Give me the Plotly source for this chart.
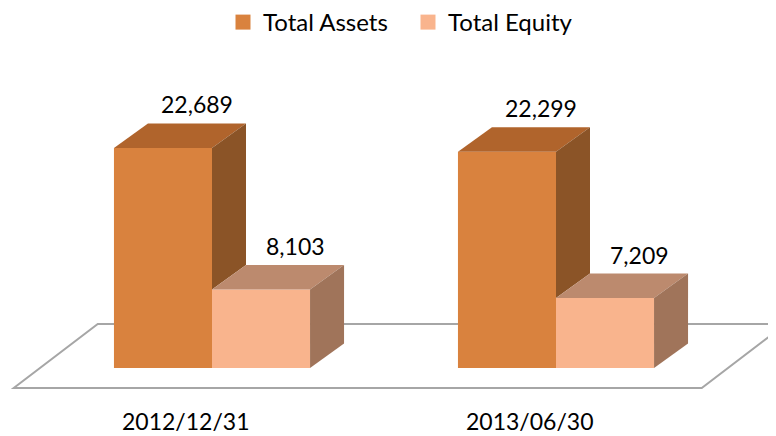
import plotly.graph_objects as go

# ---- data ----
categories = ["2012/12/31", "2013/06/30"]
series_names = ["Total Assets", "Total Equity"]
total_assets = [22689, 22299]
total_equity = [8103, 7209]
value_labels_assets = ["22,689", "22,299"]
value_labels_equity = ["8,103", "7,209"]

# ---- styling / geometry (pixel-tuned; page has an 8px body margin) ----
W, H = 768, 428
MB = 30                       # bottom margin
PX_PER_CAT = 344.0            # horizontal pixels per category
X0_PX = 204.0                 # pixel position of category 0
UNITS_PER_PX = 103.1          # value units per vertical pixel
ZERO_PX = 360.0               # pixel row of value 0
BAR_W = 0.285                 # bar width in category units
DDX = 34.0 / PX_PER_CAT       # depth shift (x) in category units
DDY = 24.5 * UNITS_PER_PX     # depth shift (y) in value units

cols = {
    "Total Assets": {"front": "#D9823E", "top": "#B0642C", "side": "#8B5427"},
    "Total Equity": {"front": "#F9B48D", "top": "#BC8A6E", "side": "#A0745A"},
}
FONT = "Lato"
TXT = "#000000"

plot_h = H - MB
xr = [(0 - X0_PX) / PX_PER_CAT, (W - X0_PX) / PX_PER_CAT]
yr = [-(plot_h - ZERO_PX) * UNITS_PER_PX, ZERO_PX * UNITS_PER_PX]

fig = go.Figure()
xs = list(range(len(categories)))

series = [("Total Assets", total_assets, -BAR_W, value_labels_assets),
          ("Total Equity", total_equity, 0.0, value_labels_equity)]

# front faces as bars
for name, vals, off, _ in series:
    fig.add_trace(go.Bar(
        x=xs, y=vals, width=BAR_W, offset=off, name=name,
        marker=dict(color=cols[name]["front"], line=dict(width=0)),
        showlegend=False, hoverinfo="skip"))

# top and side faces (derived from the values)
for si, (name, vals, off, labels) in enumerate(series):
    for i, v in enumerate(vals):
        x0 = i + off
        x1 = x0 + BAR_W
        fig.add_trace(go.Scatter(
            x=[x0, x1, x1 + DDX, x0 + DDX, x0],
            y=[v, v, v + DDY, v + DDY, v],
            fill="toself", fillcolor=cols[name]["top"], mode="lines",
            line=dict(width=0, color=cols[name]["top"]),
            showlegend=False, hoverinfo="skip"))
        base = 0
        if si + 1 < len(series):
            base = series[si + 1][1][i]
        fig.add_trace(go.Scatter(
            x=[x1, x1, x1 + DDX, x1 + DDX, x1],
            y=[base, v, v + DDY, base + DDY, base],
            fill="toself", fillcolor=cols[name]["side"], mode="lines",
            line=dict(width=0, color=cols[name]["side"]),
            showlegend=False, hoverinfo="skip"))
        fig.add_annotation(
            x=x0 + BAR_W / 2 + DDX, y=v + DDY, text=labels[i],
            showarrow=False, yanchor="middle", yshift=19,
            font=dict(family=FONT, size=23, color=TXT))

# legend entries
for name, _, _, _ in series:
    fig.add_trace(go.Scatter(
        x=[None], y=[None], mode="markers", name=name,
        marker=dict(symbol="square", size=15, color=cols[name]["front"])))

# floor parallelogram (frame decoration)
n = len(categories)
FLOOR_SLOPE = 84.0 / 64.0
front_dy_px, back_dy_px = 20.0, 44.0
fx_front = -front_dy_px * FLOOR_SLOPE / PX_PER_CAT
fx_back = back_dy_px * FLOOR_SLOPE / PX_PER_CAT
fy_front = -front_dy_px * UNITS_PER_PX
fy_back = back_dy_px * UNITS_PER_PX
L, R = -0.5, n - 0.5
path = (f"M{L + fx_front},{fy_front} L{R + fx_front},{fy_front} "
        f"L{R + fx_back},{fy_back} L{L + fx_back},{fy_back} Z")
fig.add_shape(type="path", path=path, xref="x", yref="y", layer="below",
              line=dict(color="#A6A6A6", width=2), fillcolor="rgba(0,0,0,0)")

fig.update_layout(
    width=W, height=H,
    margin=dict(l=0, r=0, t=0, b=MB, autoexpand=False),
    paper_bgcolor="white", plot_bgcolor="white",
    barmode="overlay",
    font=dict(family=FONT, size=23, color=TXT),
    legend=dict(orientation="h", x=215 / W, xanchor="left",
                y=1 + 8 / plot_h, yanchor="top",
                entrywidth=140, entrywidthmode="pixels",
                font=dict(family=FONT, size=24, color=TXT),
                itemsizing="trace", bgcolor="rgba(0,0,0,0)"),
    xaxis=dict(range=xr, showgrid=False, zeroline=False, showline=False,
               tickmode="array",
               tickvals=[i + fx_front for i in xs], ticktext=categories,
               ticks="", tickfont=dict(family=FONT, size=23, color=TXT)),
    yaxis=dict(range=yr, visible=False, showgrid=False, zeroline=False),
)

fig.write_html("out.html")
